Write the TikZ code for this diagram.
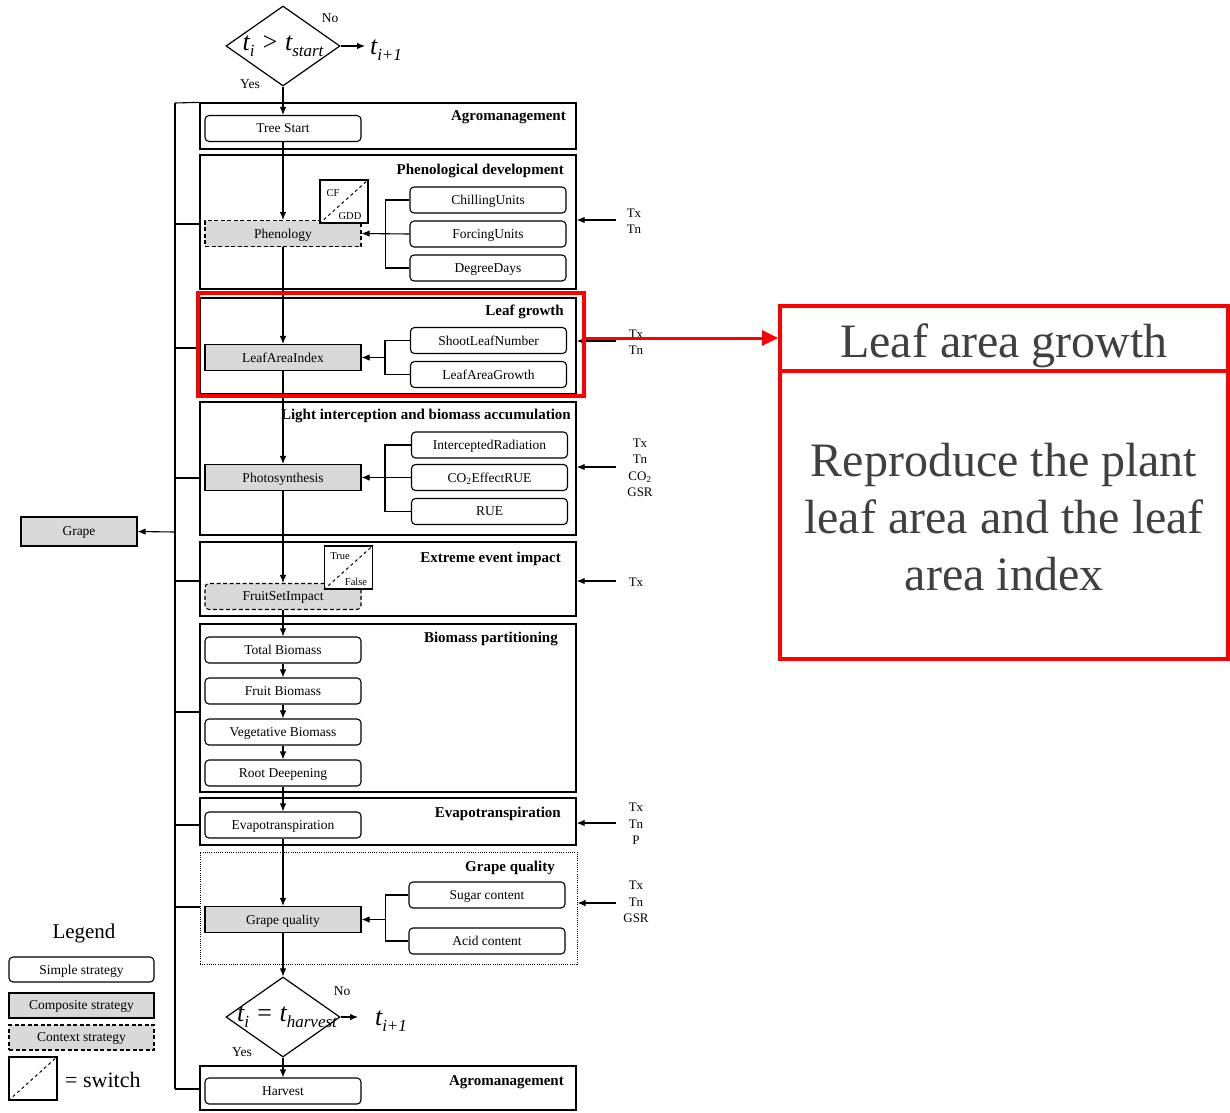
\documentclass[tikz,border=0pt]{standalone}
\usepackage{fontspec}
\setmainfont{Liberation Serif}
\usetikzlibrary{shapes.geometric,arrows.meta}
\definecolor{boxgray}{HTML}{D9D9D9}
\definecolor{calloutgray}{HTML}{404040}
% italic variable with a lowered subscript
\newcommand\tvar[1]{\textit{t}\raisebox{-0.5ex}{\fontsize{17}{17}\selectfont\textit{#1}}}

\begin{document}
\begin{tikzpicture}[x=1pt,y=-1pt,
  every node/.style={inner sep=0pt, font=\fontsize{13.5}{16.5}\selectfont},
  boxtext/.style={text depth=0pt},
  simple/.style={draw, boxtext, rounded corners=4pt, line width=1.1pt, minimum width=156pt, minimum height=26pt},
  composite/.style={draw, boxtext, fill=boxgray, line width=1.1pt, minimum width=156pt, minimum height=26pt},
  context/.style={composite, dash pattern=on 4pt off 2.5pt},
  group/.style={draw, line width=1.3pt, minimum width=376pt},
  title/.style={font=\fontsize{15}{17}\selectfont\bfseries, anchor=east},
  switchbox/.style={draw, fill=white, line width=1.3pt, minimum width=48pt, minimum height=43pt},
  swlabel/.style={font=\fontsize{10.5}{12}\selectfont},
  decision/.style={diamond, draw, line width=1.2pt, minimum width=114pt, minimum height=80pt},
  cond/.style={font=\fontsize{26}{28}\selectfont\itshape},
  arr/.style={-{Latex[length=8pt,width=6.5pt]}, line width=1.1pt},
  link/.style={line width=1.1pt},
  inputs/.style={align=center, font=\fontsize{13}{16.5}\selectfont},
  hilite/.style={draw=red, line width=4pt},
]
\useasboundingbox (0,0) rectangle (1230,1112);

% ---------- start decision ----------
\node[decision] (d1) at (283,46) {};
\node[cond] (d1t) at (283,46) {\tvar{i} > \tvar{start}};
\node (d1no) at (330,18) {No};
\node (d1yes) at (250,84) {Yes};
\coordinate (n1) at (365,46);
\draw[arr] (d1.east) -- (n1);
\node[cond] (t1next) at (386,50) {\tvar{i+1}};

% ---------- group frames ----------
\node[group, minimum height=46pt]  (g1) at (388,126) {};
\node[group, minimum height=134pt] (g2) at (388,222) {};
\node[group, minimum height=96pt]  (g3) at (388,346) {};
\node[group, minimum height=133pt] (g4) at (388,468.5) {};
\node[group, minimum height=74pt]  (g5) at (388,579) {};
\node[group, minimum height=168pt] (g6) at (388,708) {};
\node[group, minimum height=47pt]  (g7) at (388,821.5) {};
\node[draw, line width=1pt, dash pattern=on 1pt off 1.2pt, minimum width=377pt, minimum height=112pt] (g8) at (388.5,908) {};
\node[group, minimum height=44pt]  (g9) at (388,1088) {};

\node[title] (g1t) at (566,117) {Agromanagement};
\node[title] (g2t) at (564,171) {Phenological development};
\node[title] (g3t) at (564,312) {Leaf growth};
\node[title] (g4t) at (571,416) {Light interception and biomass accumulation};
\node[title] (g5t) at (561,559) {Extreme event impact};
\node[title] (g6t) at (558,639) {Biomass partitioning};
\node[title] (g7t) at (561,814) {Evapotranspiration};
\node[title] (g8t) at (555,868) {Grape quality};
\node[title] (g9t) at (564,1082) {Agromanagement};

% ---------- main column ----------
\node[simple] (tree) at (283,128.5) {Tree Start};
\node[context] (pheno) at (283,233.5) {Phenology};
\node[composite] (lai) at (283,357.5) {LeafAreaIndex};
\node[composite] (photo) at (283,477.5) {Photosynthesis};
\node[context, rounded corners=4pt] (fsi) at (283,596.5) {FruitSetImpact};
\node[simple] (tb) at (283,650) {Total Biomass};
\node[simple] (fb) at (283,691) {Fruit Biomass};
\node[simple] (vb) at (283,732) {Vegetative Biomass};
\node[simple] (rd) at (283,773) {Root Deepening};
\node[simple] (et) at (283,825) {Evapotranspiration};
\node[composite] (gq) at (283,919.5) {Grape quality};
\node[simple] (harv) at (283,1091) {Harvest};

% switches
\node[switchbox] (sw1) at (344,201.5) {};
\draw[dashed, line width=1pt] (sw1.south west) -- (sw1.north east);
\node[swlabel] (sw1a) at (333,193) {CF};
\node[swlabel] (sw1b) at (350,216) {GDD};
\node[switchbox] (sw2) at (348.5,567.5) {};
\draw[dashed, line width=1pt] (sw2.south west) -- (sw2.north east);
\node[swlabel] (sw2a) at (340,556) {True};
\node[swlabel] (sw2b) at (356,582) {False};

% ---------- component strategies ----------
\node[simple] (chill) at (488,200) {ChillingUnits};
\node[simple] (forc) at (488,234) {ForcingUnits};
\node[simple] (deg) at (488,268) {DegreeDays};
\node[simple] (sln) at (488.5,340.5) {ShootLeafNumber};
\node[simple] (lag) at (488.5,374.5) {LeafAreaGrowth};
\node[simple] (ir) at (489.5,445) {InterceptedRadiation};
\node[simple] (co2) at (489.5,477.5) {CO\textsubscript{2}EffectRUE};
\node[simple] (rue) at (489.5,511.5) {RUE};
\node[simple] (sug) at (487,895) {Sugar content};
\node[simple] (acid) at (487,941) {Acid content};

\draw[link] (chill.west) -- ++(-24,0) |- (deg.west);
\draw[arr] (forc.west) -- (pheno.east);
\draw[link] (sln.west) -- ++(-25,0) |- (lag.west);
\coordinate (lb) at (385.5,357.5);
\draw[arr] (lb) -- (lai.east);
\draw[link] (ir.west) -- ++(-26,0) |- (rue.west);
\draw[arr] (co2.west) -- (photo.east);
\draw[link] (sug.west) -- ++(-23,0) |- (acid.west);
\coordinate (gb) at (386,919.5);
\draw[arr] (gb) -- (gq.east);

% ---------- flow along the main column ----------
\draw[arr] (d1.south) -- (tree.north);
\draw[arr] (tree.south) -- (pheno.north);
\draw[arr] (pheno.south) -- (lai.north);
\draw[arr] (lai.south) -- (photo.north);
\draw[arr] (photo.south) -- (fsi.north);
\draw[arr] (fsi.south) -- (tb.north);
\draw[arr] (tb.south) -- (fb.north);
\draw[arr] (fb.south) -- (vb.north);
\draw[arr] (vb.south) -- (rd.north);
\draw[arr] (rd.south) -- (et.north);
\draw[arr] (et.south) -- (gq.north);

% ---------- harvest decision ----------
\node[decision] (d2) at (283,1017) {};
\node[cond] (d2t) at (287,1017) {\tvar{i} = \tvar{harvest}};
\node (d2no) at (342,991) {No};
\node (d2yes) at (242,1052) {Yes};
\coordinate (n2) at (358,1017);
\draw[arr] (d2.east) -- (n2);
\node[cond] (t2next) at (391,1021) {\tvar{i+1}};
\draw[arr] (gq.south) -- (d2.north);
\draw[arr] (d2.south) -- (harv.north);

% ---------- weather inputs ----------
\coordinate (w2) at (616,220);
\draw[arr] (w2) -- (g2.east |- w2);
\node[inputs] (w2t) at (634,221) {Tx\\Tn};
\coordinate (w3) at (616,341);
\draw[arr] (w3) -- (g3.east |- w3);
\node[inputs] (w3t) at (636,342) {Tx\\Tn};
\coordinate (w4) at (616,467);
\draw[arr] (w4) -- (g4.east |- w4);
\node[inputs] (w4t) at (640,468) {Tx\\Tn\\CO\textsubscript{2}\\GSR};
\coordinate (w5) at (616,581);
\draw[arr] (w5) -- (g5.east |- w5);
\node[inputs] (w5t) at (636,582) {Tx};
\coordinate (w7) at (616,823);
\draw[arr] (w7) -- (g7.east |- w7);
\node[inputs] (w7t) at (636,824) {Tx\\Tn\\P};
\coordinate (w8) at (616,903);
\draw[arr] (w8) -- (g8.east |- w8);
\node[inputs] (w8t) at (636,902) {Tx\\Tn\\GSR};

% ---------- time-step bus and output ----------
\coordinate (btop) at (175,103);
\coordinate (bbot) at (175,1089);
\draw[link] (btop) -- (bbot);
\draw[link] (btop) -- (g1.north west);
\coordinate (b2) at (175,224);  \draw[link] (b2) -- (g2.west |- b2);
\coordinate (b3) at (175,348);  \draw[link] (b3) -- (g3.west |- b3);
\coordinate (b4) at (175,478);  \draw[link] (b4) -- (g4.west |- b4);
\coordinate (b5) at (175,581);  \draw[link] (b5) -- (g5.west |- b5);
\coordinate (b6) at (175,712);  \draw[link] (b6) -- (g6.west |- b6);
\coordinate (b7) at (175,825);  \draw[link] (b7) -- (g7.west |- b7);
\coordinate (b8) at (175,907);  \draw[link] (b8) -- (g8.west |- b8);
\draw[link] (bbot) -- (g9.west |- bbot);
\node[composite, minimum width=116pt, minimum height=29pt] (grape) at (79,531.5) {Grape};
\coordinate (bg) at (175,532);
\draw[arr] (bg) -- (grape.east);

% ---------- legend ----------
\node[font=\fontsize{21}{24}\selectfont] (leg) at (84,933) {Legend};
\node[simple, minimum width=145pt, minimum height=25pt] (legs) at (81.5,969.5) {Simple strategy};
\node[composite, minimum width=145pt, minimum height=25pt] (legc) at (81.5,1005.5) {Composite strategy};
\node[context, minimum width=145pt, minimum height=25pt] (legx) at (81.5,1037.5) {Context strategy};
\node[switchbox] (legsw) at (33,1078.5) {};
\draw[dashed, line width=1pt] (legsw.south west) -- (legsw.north east);
\node[font=\fontsize{22}{24}\selectfont, anchor=west] (legswt) at (65,1080) {= switch};

% ---------- highlighted module and its description ----------
\node[hilite, minimum width=386pt, minimum height=103pt] (hl) at (391,344.5) {};
\node[hilite, minimum width=448pt, minimum height=353pt] (call) at (1004,482.5) {};
\coordinate (div) at (1004,371);
\draw[red, line width=4pt] (call.west |- div) -- (call.east |- div);
\coordinate (ra) at (0,338);
\draw[red, line width=3pt, -{Triangle[length=16pt,width=15pt]}] (hl.east |- ra) -- (call.west |- ra);
\node[font=\fontsize{48}{57}\selectfont, text=calloutgray, anchor=base] (ch) at (1004,357) {Leaf area growth};
\node[font=\fontsize{48}{57}\selectfont, text=calloutgray, anchor=base] (cl1) at (1004,476) {Reproduce the plant};
\node[font=\fontsize{48}{57}\selectfont, text=calloutgray, anchor=base] (cl2) at (1004,533) {leaf area and the leaf};
\node[font=\fontsize{48}{57}\selectfont, text=calloutgray, anchor=base] (cl3) at (1004,590) {area index};
\end{tikzpicture}
\end{document}
